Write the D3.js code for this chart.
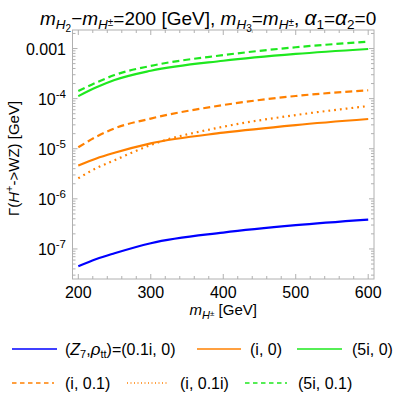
<!DOCTYPE html>
<html>
<head>
<meta charset="utf-8">
<script src="https://cdn.jsdelivr.net/npm/d3@7"></script>
<style>
  body { margin: 0; background: #fff; }
  svg { font-family: "Liberation Sans", Arial, sans-serif; }
  .frame { fill: none; stroke: #b0b0b0; stroke-width: 1; }
  .tick { stroke: #b0b0b0; stroke-width: 1; }
  .tick-label { font-size: 16px; fill: #000; }
  .curve { fill: none; stroke-width: 2.2; }
  .legend-label { font-size: 16px; fill: #000; }
</style>
</head>
<body>
<svg id="chart" width="407" height="402"></svg>
<script>
// charged Higgs mass [GeV]
const masses = [200, 225, 250, 300, 400, 500, 600];

// Gamma(H+ -> WZ) [GeV] for each (Z7, rho_tt)
const z01i_0 = [4.5e-8, 6.3e-8, 8.2e-8, 1.3e-7, 2.12e-7, 2.98e-7, 3.85e-7];
const zi_0 = [4.6e-6, 6.4e-6, 8.3e-6, 1.28e-5, 2.09e-5, 2.97e-5, 3.92e-5];
const z5i_0 = [1.12e-4, 1.68e-4, 2.35e-4, 3.6e-4, 5.7e-4, 7.8e-4, 9.8e-4];
const zi_01 = [1.07e-5, 1.74e-5, 2.55e-5, 4.0e-5, 7.45e-5, 1.13e-4, 1.47e-4];
const zi_01i = [2.57e-6, 4.1e-6, 5.9e-6, 1.19e-5, 2.75e-5, 4.7e-5, 7.1e-5];
const z5i_01 = [1.42e-4, 2.1e-4, 2.96e-4, 4.5e-4, 7.4e-4, 1.06e-3, 1.37e-3];

const xTicks = [200, 300, 400, 500, 600];
const yTicks = [1e-7, 1e-6, 1e-5, 1e-4, 1e-3];

const DIMS = { LEFT: 72.5, RIGHT: 374, TOP: 30, BOTTOM: 279 };

const svg = d3.select("#chart");

const x = d3.scaleLinear().domain([192, 608]).range([DIMS.LEFT, DIMS.RIGHT]);
const y = d3.scaleLog()
  .domain([Math.pow(10, -7.6), Math.pow(10, -2.63)])
  .range([DIMS.BOTTOM, DIMS.TOP]);

const series = [
  { values: z01i_0, color: "#0000ff", dash: null, legendDash: null },
  { values: zi_0, color: "#ff8000", dash: null, legendDash: null },
  { values: z5i_0, color: "#1ee81e", dash: null, legendDash: null },
  { values: zi_01, color: "#ff8000", dash: "7,4", legendDash: "4.5,3.5" },
  { values: zi_01i, color: "#ff8000", dash: "1.8,4", legendDash: "1,2.5" },
  { values: z5i_01, color: "#1ee81e", dash: "7,4", legendDash: "4.5,3.5" },
];

// rich text: segments [text, italic, size, baselineShift]
function richText(t, segs, baseSize) {
  let shift = 0;
  segs.forEach(([txt, italic, size, s]) => {
    s = s || 0;
    t.append("tspan")
      .attr("font-style", italic ? "italic" : null)
      .attr("font-size", (size || baseSize) + "px")
      .attr("dy", s - shift)
      .text(txt);
    shift = s;
  });
}

// frame
svg.append("rect")
  .attr("class", "frame")
  .attr("x", DIMS.LEFT)
  .attr("y", DIMS.TOP)
  .attr("width", DIMS.RIGHT - DIMS.LEFT)
  .attr("height", DIMS.BOTTOM - DIMS.TOP);

// x ticks (major every 100, minor every 20) on bottom and top
d3.range(200, 601, 20).forEach((v) => {
  const len = v % 100 === 0 ? 5 : 3;
  svg.append("line").attr("class", "tick")
    .attr("x1", x(v)).attr("x2", x(v))
    .attr("y1", DIMS.BOTTOM).attr("y2", DIMS.BOTTOM - len);
  svg.append("line").attr("class", "tick")
    .attr("x1", x(v)).attr("x2", x(v))
    .attr("y1", DIMS.TOP).attr("y2", DIMS.TOP + len);
});
svg.append("g")
  .selectAll("text")
  .data(xTicks)
  .join("text")
  .attr("class", "tick-label")
  .attr("x", (d) => x(d))
  .attr("y", 298)
  .attr("text-anchor", "middle")
  .text((d) => d);

// y ticks (log, minor 2..9) on left and right
const [yLo, yHi] = y.domain();
for (let e = -8; e <= -2; e++) {
  for (let m = 1; m <= 9; m++) {
    const v = m * Math.pow(10, e);
    if (v < yLo || v > yHi) continue;
    const len = m === 1 ? 5 : 3;
    svg.append("line").attr("class", "tick")
      .attr("x1", DIMS.LEFT).attr("x2", DIMS.LEFT + len)
      .attr("y1", y(v)).attr("y2", y(v));
    svg.append("line").attr("class", "tick")
      .attr("x1", DIMS.RIGHT).attr("x2", DIMS.RIGHT - len)
      .attr("y1", y(v)).attr("y2", y(v));
  }
}
svg.append("g")
  .selectAll("text")
  .data(yTicks)
  .join("text")
  .attr("class", "tick-label")
  .attr("x", 66)
  .attr("y", (d) => y(d) + 6)
  .attr("text-anchor", "end")
  .each(function (d) {
    const t = d3.select(this);
    const e = Math.round(Math.log10(d));
    if (e === -3) {
      t.text("0.001");
    } else {
      richText(t, [["10"], [String(e), false, 11.5, -7]], 16);
    }
  });

// curves
const line = d3.line()
  .x((d) => x(d[0]))
  .y((d) => y(d[1]))
  .curve(d3.curveMonotoneX);

svg.append("g")
  .selectAll("path")
  .data(series)
  .join("path")
  .attr("class", "curve")
  .attr("stroke", (d) => d.color)
  .attr("stroke-dasharray", (d) => d.dash)
  .attr("d", (d) => line(masses.map((m, i) => [m, d.values[i]])));

// title
const title = svg.append("text").attr("x", 40).attr("y", 25);
richText(title, [
  ["m", true], ["H", true, 13.5, 4], ["2", false, 10, 7],
  ["\u2212", false, null, 0],
  ["m", true], ["H", true, 13.5, 4], ["\u00b1", false, 10, 1],
  ["=200 [GeV], ", false, null, 0],
  ["m", true], ["H", true, 13.5, 4], ["3", false, 10, 7],
  ["=", false, null, 0],
  ["m", true], ["H", true, 13.5, 4], ["\u00b1", false, 10, 1],
  [", ", false, null, 0],
  ["\u03b1", true, 21], ["1", false, 13.5, 4],
  ["=", false, null, 0],
  ["\u03b1", true, 21], ["2", false, 13.5, 4],
  ["=0", false, null, 0],
], 19);

// y axis label
const yLabel = svg.append("text")
  .attr("transform", `translate(19,${(DIMS.TOP + DIMS.BOTTOM) / 2 + 4}) rotate(-90)`)
  .attr("text-anchor", "middle");
richText(yLabel, [
  ["\u0393("], ["H", true], ["+", false, 11, -6], ["->WZ) [GeV]", false, null, 0],
], 15);

// x axis label
const xLabel = svg.append("text")
  .attr("x", (DIMS.LEFT + DIMS.RIGHT) / 2)
  .attr("y", 315)
  .attr("text-anchor", "middle");
richText(xLabel, [
  ["m", true], ["H", true, 11, 4], ["\u00b1", false, 8, 1], [" [GeV]", false, null, 0],
], 15);

// legend
const legendItems = [
  { s: series[0], x: 12, y: 349, w: 45, lx: 65,
    label: [["("], ["Z", true], ["7", false, 11, 3], [",", false, null, 0], ["\u03c1", true, 17], ["tt", false, 11, 3], [")=(0.1i, 0)", false, null, 0]] },
  { s: series[1], x: 197, y: 349, w: 44, lx: 250, label: [["(i, 0)"]] },
  { s: series[2], x: 297, y: 349, w: 45, lx: 352, label: [["(5i, 0)"]] },
  { s: series[3], x: 12, y: 383, w: 42, lx: 65, label: [["(i, 0.1)"]] },
  { s: series[4], x: 127, y: 383, w: 42, lx: 180, label: [["(i, 0.1i)"]] },
  { s: series[5], x: 245, y: 383, w: 42, lx: 298, label: [["(5i, 0.1)"]] },
];
legendItems.forEach((it) => {
  const g = svg.append("g").attr("transform", `translate(0,${it.y})`);
  g.append("line")
    .attr("x1", it.x).attr("x2", it.x + it.w)
    .attr("stroke", it.s.color)
    .attr("stroke-width", 1.4)
    .attr("stroke-dasharray", it.s.legendDash);
  const t = g.append("text")
    .attr("class", "legend-label")
    .attr("x", it.lx)
    .attr("y", 5.5);
  richText(t, it.label, 16);
});
</script>
</body>
</html>
